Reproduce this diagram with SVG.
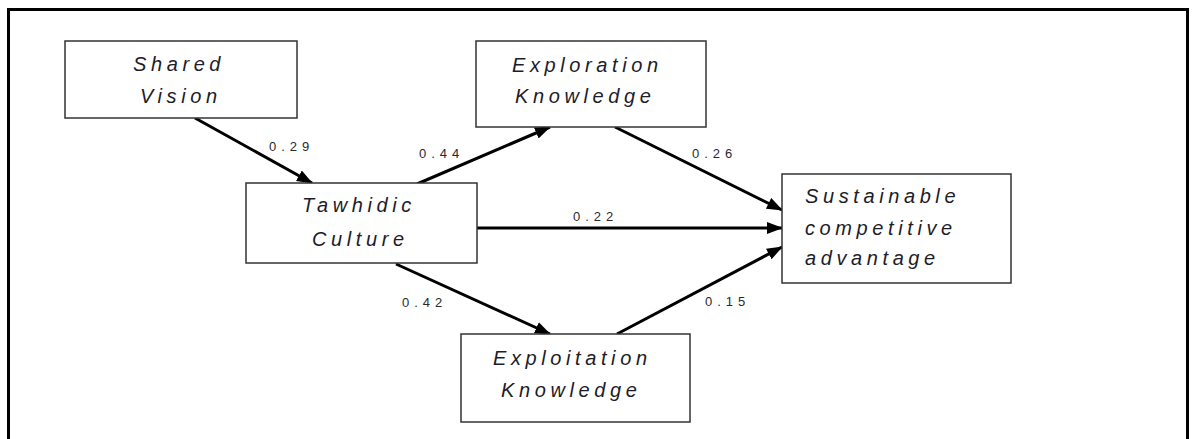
<svg xmlns="http://www.w3.org/2000/svg" width="1194" height="439" viewBox="0 0 1194 439">
<style>
.box{fill:#fff;stroke:#333;stroke-width:1.5}
.t{font-family:"Liberation Sans",Arial,sans-serif;font-style:italic;font-size:20px;letter-spacing:4.6px;fill:#1c1c2a}
.lbl{font-family:"Liberation Sans",Arial,sans-serif;font-size:13px;letter-spacing:5px;fill:#2a2a2a}
.c{fill:none;stroke:#000;stroke-width:3}
</style>
<defs>
<marker id="ah" markerUnits="userSpaceOnUse" markerWidth="16" markerHeight="13" refX="15" refY="6.5" orient="auto">
<path d="M0,0.5 L16,6.5 L0,12.5 z" fill="#000"/>
</marker>
</defs>
<rect width="1194" height="439" fill="#fff"/>
<path d="M8.5,440 V9.5 H1187.5 V440" fill="none" stroke="#000" stroke-width="3"/>
<g id="connectors">
<line class="c" x1="195" y1="118" x2="312" y2="183" marker-end="url(#ah)"/>
<line class="c" x1="417" y1="184" x2="550" y2="127" marker-end="url(#ah)"/>
<line class="c" x1="615" y1="127" x2="782" y2="210" marker-end="url(#ah)"/>
<line class="c" x1="477" y1="228" x2="782" y2="228" marker-end="url(#ah)"/>
<line class="c" x1="396" y1="264" x2="550" y2="334" marker-end="url(#ah)"/>
<line class="c" x1="617" y1="334" x2="782" y2="247" marker-end="url(#ah)"/>
<text class="lbl" x="269" y="151">0.29</text>
<text class="lbl" x="419" y="158">0.44</text>
<text class="lbl" x="692" y="158">0.26</text>
<text class="lbl" x="573" y="221">0.22</text>
<text class="lbl" x="402" y="307">0.42</text>
<text class="lbl" x="705" y="306">0.15</text>
</g>
<g id="shared-vision">
<rect class="box" x="65" y="41" width="232" height="77"/>
<text class="t" x="133" y="71">Shared</text>
<text class="t" x="140" y="103">Vision</text>
</g>
<g id="exploration-knowledge">
<rect class="box" x="476" y="41" width="230" height="86"/>
<text class="t" x="512" y="72">Exploration</text>
<text class="t" x="515" y="103">Knowledge</text>
</g>
<g id="tawhidic-culture">
<rect class="box" x="246" y="183" width="231" height="80"/>
<text class="t" x="302" y="212">Tawhidic</text>
<text class="t" x="312" y="246">Culture</text>
</g>
<g id="exploitation-knowledge">
<rect class="box" x="461" y="334" width="229" height="88"/>
<text class="t" x="493" y="365">Exploitation</text>
<text class="t" x="501" y="397">Knowledge</text>
</g>
<g id="sustainable-competitive-advantage">
<rect class="box" x="782" y="174" width="229" height="109"/>
<text class="t" x="805" y="203">Sustainable</text>
<text class="t" x="805" y="235">competitive</text>
<text class="t" x="805" y="265">advantage</text>
</g>
</svg>
